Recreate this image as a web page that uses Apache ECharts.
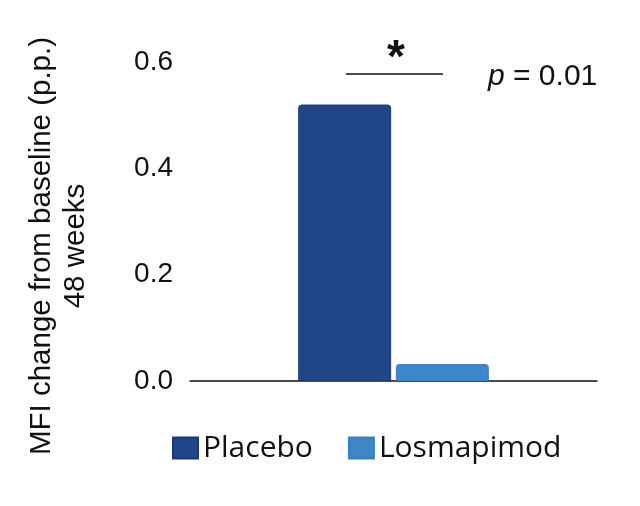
<!DOCTYPE html>
<html>
<head>
<meta charset="utf-8">
<script src="https://cdn.jsdelivr.net/npm/echarts@6/dist/echarts.min.js"></script>
<style>
  html, body { margin: 0; padding: 0; background: #fff; }
  #main { width: 640px; height: 506px; }
</style>
</head>
<body>
<div id="main"></div>
<script>
// data
var categories = ['48 weeks'];
var seriesNames = ['Placebo', 'Losmapimod'];
var placeboValues = [0.52];
var losmapimodValues = [0.032];
var yTicks = [0, 0.2, 0.4, 0.6];

var chart = echarts.init(document.getElementById('main'));
var font = 'Liberation Sans';
var legendFont = 'Open Sans';

var option = {
    backgroundColor: '#ffffff',
    color: ['#1f4788', '#3d86c8'],
    textStyle: { fontFamily: font },
    animation: false,
    grid: {
        left: 190,
        right: 43,
        top: 62,
        bottom: 125
    },
    legend: {
        data: seriesNames,
        left: 167,
        top: 428,
        itemWidth: 25,
        itemHeight: 21,
        itemGap: 35,
        icon: 'rect',
        textStyle: { fontSize: 30, color: '#111', fontFamily: legendFont }
    },
    xAxis: {
        type: 'category',
        data: categories,
        axisLine: { lineStyle: { color: '#111', width: 1.5 } },
        axisTick: { show: false },
        axisLabel: { show: false }
    },
    yAxis: {
        type: 'value',
        min: yTicks[0],
        max: yTicks[yTicks.length - 1],
        interval: 0.2,
        axisLine: { show: false },
        axisTick: { show: false },
        splitLine: { show: false },
        axisLabel: {
            fontSize: 28,
            color: '#111',
            margin: 17,
            fontFamily: font,
            formatter: function (v) { return v.toFixed(1); }
        }
    },
    series: [
        {
            name: seriesNames[0],
            type: 'bar',
            data: placeboValues,
            barWidth: 93,
            barGap: '5%',
            itemStyle: { borderRadius: [3, 3, 0, 0], borderColor: '#173a78', borderWidth: 1 }
        },
        {
            name: seriesNames[1],
            type: 'bar',
            data: losmapimodValues,
            barWidth: 93,
            barGap: '5%',
            itemStyle: { borderRadius: [3, 3, 0, 0], borderColor: '#3a7fc0', borderWidth: 1 }
        }
    ],
    graphic: [
        {
            // y axis title
            type: 'text',
            x: 59, y: 246,
            rotation: Math.PI / 2,
            style: {
                text: 'MFI change from baseline (p.p.)\n48 weeks',
                fontSize: 29.5, lineHeight: 34, fill: '#111', fontFamily: font,
                align: 'center', verticalAlign: 'middle'
            }
        },
        {
            type: 'line',
            shape: { x1: 346, y1: 74, x2: 443, y2: 74 },
            style: { stroke: '#111', lineWidth: 1.5 }
        },
        {
            type: 'text',
            x: 396, y: 59,
            style: { text: '*', fontSize: 46, fontWeight: 'bold', fill: '#111', align: 'center', verticalAlign: 'middle', fontFamily: font }
        },
        {
            type: 'text',
            x: 488, y: 77,
            style: {
                text: '{i|p} = 0.01',
                verticalAlign: 'middle',
                rich: {
                    i: { fontStyle: 'italic', fontSize: 30, fill: '#111', fontFamily: font }
                },
                fontSize: 30, fill: '#111', fontFamily: font
            }
        }
    ]
};

chart.setOption(option);
</script>
</body>
</html>
